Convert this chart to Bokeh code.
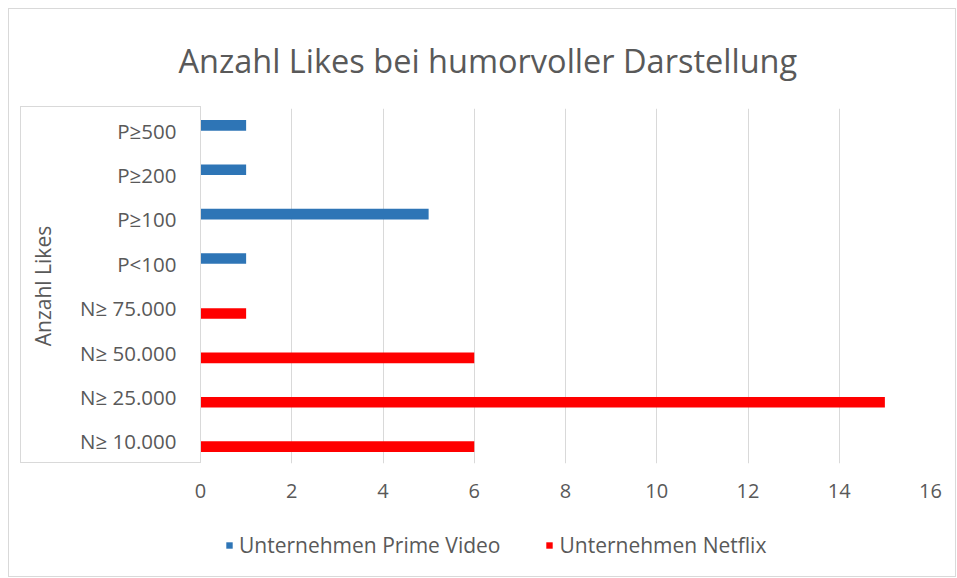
from bokeh.plotting import figure
from bokeh.layouts import column
from bokeh.models import (ColumnDataSource, FactorRange, Range1d, FixedTicker,
                          Legend, LegendItem, InlineStyleSheet)
from bokeh.transform import dodge
from bokeh.embed import file_html
from bokeh.resources import INLINE

categories = ["N\u2265 10.000", "N\u2265 25.000", "N\u2265 50.000", "N\u2265 75.000",
              "P<100", "P\u2265100", "P\u2265200", "P\u2265500"]
prime_video = [0, 0, 0, 0, 1, 5, 1, 1]
netflix = [6, 15, 6, 1, 0, 0, 0, 0]
x_ticks = [0, 2, 4, 6, 8, 10, 12, 14, 16]

title_text = "Anzahl Likes bei humorvoller Darstellung"
y_title = "Anzahl Likes"
series_names = ["Unternehmen Prime Video", "Unternehmen Netflix"]
colors = ["#2E75B6", "#FF0000"]
TXT = "#595959"
GRID = "#D9D9D9"
FONT = "Open Sans"

src = ColumnDataSource(dict(cat=categories, prime=prime_video, netflix=netflix))

W, H1, H2 = 948, 507, 62
p = figure(width=W, height=H1, output_backend="svg", toolbar_location=None,
           y_range=FactorRange(*categories, range_padding=0),
           x_range=Range1d(0, 16),
           min_border_left=191, min_border_right=27, min_border_top=97,
           min_border_bottom=53, title=title_text)
p.margin = (8, 0, 0, 8)
p.styles = {"border-top": f"1px solid {GRID}", "border-left": f"1px solid {GRID}",
            "border-right": f"1px solid {GRID}"}
p.stylesheets = [InlineStyleSheet(css=(
    ":host { position: relative; }\n"
    ":host::after { content: ''; position: absolute; left: 11px; top: 97px; "
    "width: 181px; height: 357px; box-sizing: border-box; "
    f"border: 1px solid {GRID}; pointer-events: none; }}"))]
p.outline_line_color = None
p.background_fill_color = "white"
p.border_fill_color = "white"

p.title.text_font = FONT
p.title.text_font_size = "32.5px"
p.title.text_font_style = "normal"
p.title.text_color = TXT
p.title.align = "left"
p.title.offset = -22
p.title.standoff = 52

p.hbar(y=dodge("cat", 0.12, range=p.y_range), right="prime", left=0, height=0.24,
       source=src, color=colors[0], line_color=None)
p.hbar(y=dodge("cat", -0.12, range=p.y_range), right="netflix", left=0, height=0.24,
       source=src, color=colors[1], line_color=None)

# axes
p.xaxis.ticker = FixedTicker(ticks=x_ticks)
p.xaxis.axis_line_color = None
p.xaxis.major_tick_line_color = None
p.xaxis.minor_tick_line_color = None
p.xaxis.major_label_standoff = 14
p.xaxis.major_label_text_font = FONT
p.xaxis.major_label_text_font_size = "20px"
p.xaxis.major_label_text_color = TXT

p.yaxis.axis_line_color = None
p.yaxis.major_tick_line_color = None
p.yaxis.minor_tick_line_color = None
p.yaxis.major_label_standoff = 18
p.yaxis.major_label_text_font = FONT
p.yaxis.major_label_text_font_size = "20.5px"
p.yaxis.major_label_text_color = TXT
p.yaxis.axis_label = y_title
p.yaxis.axis_label_text_font = FONT
p.yaxis.axis_label_text_font_size = "21px"
p.yaxis.axis_label_text_font_style = "normal"
p.yaxis.axis_label_text_color = TXT
p.yaxis.axis_label_standoff = 20

p.xgrid.grid_line_color = GRID
p.xgrid.grid_line_width = 1
p.ygrid.grid_line_color = None

# legend strip below the chart (its frame lines up with the chart's frame)
p2 = figure(width=W, height=H2, output_backend="svg", toolbar_location=None,
            x_axis_type=None, y_axis_type=None, x_range=Range1d(0, 1), y_range=Range1d(0, 1),
            min_border=0)
p2.margin = (0, 0, 0, 8)
p2.styles = {"border-bottom": f"1px solid {GRID}", "border-left": f"1px solid {GRID}",
             "border-right": f"1px solid {GRID}"}
p2.outline_line_color = None
p2.grid.visible = False
p2.background_fill_color = "white"
p2.border_fill_color = "white"

# zero-size proxy bars that only carry the legend colours
leg_src = ColumnDataSource(dict(y=[0, 0], zero=[0, 0], name=series_names, color=colors))
lr = p2.hbar(y="y", left="zero", right="zero", height=0, source=leg_src,
             fill_color="color", line_color=None)

legend = Legend(items=[LegendItem(label=series_names[0], renderers=[lr], index=0),
                       LegendItem(label=series_names[1], renderers=[lr], index=1)],
                orientation="horizontal", location=(25, 18),
                glyph_width=8, glyph_height=8, label_standoff=6, spacing=45,
                padding=0, margin=0, border_line_color=None, background_fill_alpha=0,
                label_text_font=FONT, label_text_font_size="21px", label_text_color=TXT)
p2.add_layout(legend, "center")

layout = column(p, p2, spacing=0)
open("out.html", "w").write(file_html(layout, INLINE))
